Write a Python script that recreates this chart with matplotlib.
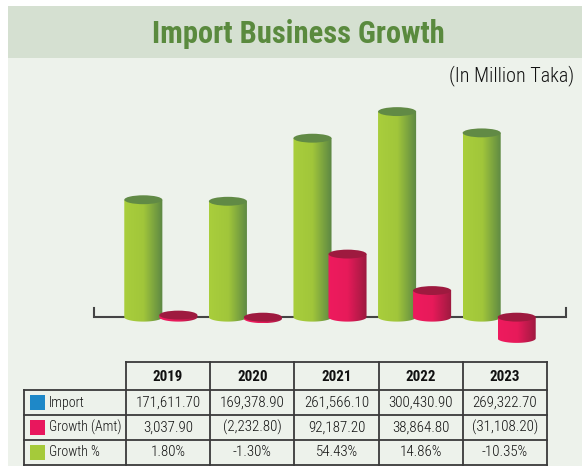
import numpy as np
import matplotlib
matplotlib.use("Agg")
import matplotlib.pyplot as plt
from matplotlib.patches import Rectangle, Ellipse, PathPatch
from matplotlib.path import Path
from matplotlib.colors import LinearSegmentedColormap

plt.rcParams['font.family'] = ['Roboto Condensed', 'Liberation Sans', 'DejaVu Sans']

# data
years = ['2019', '2020', '2021', '2022', '2023']
import_amt = [171611.70, 169378.90, 261566.10, 300430.90, 269322.70]
growth_amt = [3037.90, -2232.80, 92187.20, 38864.80, -31108.20]
growth_pct = [1.80, -1.30, 54.43, 14.86, -10.35]
row_labels = ['Import', 'Growth (Amt)', 'Growth %']

# colours
bg_col = '#EDF2EB'
band_col = '#D5E0D1'
title_col = '#5A8A3E'
green_cmap = LinearSegmentedColormap.from_list(
    'g', [(0, '#A9CE3C'), (0.5, '#A1C63A'), (1, '#5C8744')])
red_cmap = LinearSegmentedColormap.from_list(
    'r', [(0, '#EE1B5E'), (0.5, '#E71A5A'), (1, '#9C1A3F')])
green_top = '#618A45'
red_top = '#9E1A3F'
legend_cols = ['#1E88C8', '#E8175D', '#A5CA3A']

W, H = 582, 466
fig = plt.figure(figsize=(W / 100, H / 100), dpi=100, facecolor='white')

# background layer in pixel coords
bg = fig.add_axes([0, 0, 1, 1])
bg.set_xlim(0, W)
bg.set_ylim(H, 0)
bg.axis('off')
bg.add_patch(Rectangle((8, 6), W - 8, H - 6, color=bg_col, lw=0))
bg.add_patch(Rectangle((8, 6), W - 8, 52, color=band_col, lw=0))
bg.text(298, 43, 'Import Business Growth', ha='center', va='baseline',
        fontsize=22, fontweight=600, color=title_col)
bg.text(574, 81, '(In Million Taka)', ha='right', va='baseline',
        fontsize=14.5, fontweight='light', color='#111111')

# chart
ax = fig.add_axes([94 / W, (H - 350) / H, 472 / W, 260 / H])
ax.set_facecolor('none')
ax.axis('off')
xlo, xhi = -0.79, 4.79
ylo, yhi = -48000, 332000
bar_w = 0.45
off = 0.207
ell_h = 13000


def cylinder(xc, val, cmap, topcol, z):
    hi, lo = max(val, 0), min(val, 0)
    t = np.linspace(np.pi, 0, 60)
    arc = np.column_stack([xc + bar_w / 2 * np.cos(t), lo - ell_h / 2 * np.sin(t)])
    verts = np.vstack([[xc - bar_w / 2, hi], arc, [xc + bar_w / 2, hi], [xc - bar_w / 2, hi]])
    body = PathPatch(Path(verts, closed=True), facecolor='none', edgecolor='none', zorder=z)
    ax.add_patch(body)
    grad = np.linspace(0, 1, 100).reshape(1, -1)
    im = ax.imshow(grad, cmap=cmap, aspect='auto', zorder=z,
                   extent=(xc - bar_w / 2, xc + bar_w / 2, lo - ell_h / 2, hi),
                   interpolation='bilinear')
    im.set_clip_path(body)
    ax.add_patch(Ellipse((xc, hi), bar_w, ell_h, facecolor=topcol,
                         edgecolor='none', zorder=z + 0.5))


ax.plot([xlo, xlo, xhi, xhi], [13000, 0, 0, 13000], color='#444444', lw=1.5,
        zorder=1, solid_joinstyle='miter', clip_on=False)
for i in range(len(years)):
    cylinder(i - off, import_amt[i], green_cmap, green_top, 2 + i * 2)
    cylinder(i + off, growth_amt[i], red_cmap, red_top, 3 + i * 2)
ax.set_xlim(xlo, xhi)
ax.set_ylim(ylo, yhi)

# table
lc = '#3A3A3A'
lw = 1.3
col_x = np.linspace(126, 547, len(years) + 1)
lab_x = 24
hdr_top, hdr_bot = 362, 390
row_h = 25
row_y = [hdr_bot + row_h * k for k in range(len(row_labels) + 1)]
ov = fig.add_axes([0, 0, 1, 1])
ov.set_xlim(0, W)
ov.set_ylim(H, 0)
ov.axis('off')
ov.plot([col_x[0], col_x[-1]], [hdr_top, hdr_top], color=lc, lw=lw)
for y in row_y:
    ov.plot([lab_x, col_x[-1]], [y, y], color=lc, lw=lw)
ov.plot([lab_x, lab_x], [hdr_bot, row_y[-1]], color=lc, lw=lw)
for x in col_x:
    ov.plot([x, x], [hdr_top, row_y[-1]], color=lc, lw=lw)

cells = [
    [f'{v:,.2f}' for v in import_amt],
    [f'({abs(v):,.2f})' if v < 0 else f'{v:,.2f}' for v in growth_amt],
    [f'{v:.2f}%' for v in growth_pct],
]
fs = 10.8
for j, yr in enumerate(years):
    ov.text((col_x[j] + col_x[j + 1]) / 2, (hdr_top + hdr_bot) / 2 + 1, yr,
            ha='center', va='center', fontsize=fs, fontweight='bold', color='#111111')
for r, lab in enumerate(row_labels):
    yc = (row_y[r] + row_y[r + 1]) / 2
    ov.add_patch(Rectangle((30, yc - 7.5), 15, 15, color=legend_cols[r], lw=0))
    ov.text(49, yc, lab, ha='left', va='center', fontsize=10,
            fontweight='light', color='#111111')
    for j in range(len(years)):
        ov.text((col_x[j] + col_x[j + 1]) / 2, yc, cells[r][j],
                ha='center', va='center', fontsize=fs, fontweight='light', color='#111111')

fig.savefig('out.png', dpi=100, facecolor='white')
